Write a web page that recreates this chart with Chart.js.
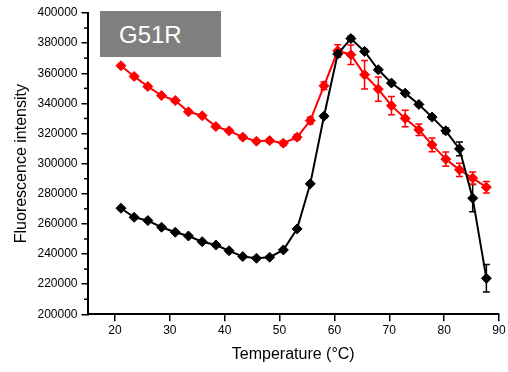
<!DOCTYPE html>
<html>
<head>
<meta charset="utf-8">
<title>G51R thermal scan</title>
<script src="https://cdn.jsdelivr.net/npm/chart.js@4/dist/chart.umd.min.js"></script>
<style>
  html, body { margin: 0; padding: 0; background: #fff; }
  #wrap { position: relative; width: 508px; height: 372px; }
  #tag {
    position: absolute; left: 100px; top: 11px; width: 121px; height: 46px;
    box-sizing: border-box; padding: 1px 0 0 19px;
    background: #7f7f7f; color: #fff;
    font: 24px "Liberation Sans", Arial, sans-serif; line-height: 46px;
  }
</style>
</head>
<body>
<div id="wrap">
  <canvas id="chart" width="508" height="372"></canvas>
  <div id="tag">G51R</div>
</div>
<script>
// temperatures of each reading (°C)
const temps = [21.1, 23.5, 26.0, 28.5, 31.0, 33.4, 35.9, 38.4, 40.8, 43.3, 45.8, 48.2, 50.7, 53.2,
               55.6, 58.1, 60.6, 63.0, 65.5, 68.0, 70.4, 72.9, 75.4, 77.8, 80.3, 82.8, 85.2, 87.7];

// black trace
const blackVals = [270400, 264400, 262200, 257800, 254500, 252000, 248200, 246000, 242200, 238300,
                   237200, 237900, 242700, 256700, 286600, 331500, 372800, 383000, 374500, 362300,
                   353500, 346800, 339300, 330900, 321800, 309800, 277100, 223900];
const blackErr = [800, 800, 800, 800, 800, 800, 800, 800, 800, 800, 800, 800, 800, 800,
                  1000, 1200, 2000, 1500, 1200, 1000, 1000, 1000, 1000, 1200, 1800, 4500, 9100, 9100];

// red trace
const redVals = [365000, 357900, 351200, 345200, 341900, 334400, 331800, 324600, 321800, 317600,
                 314900, 315300, 313600, 317600, 328600, 351700, 374900, 372300, 359000, 349500,
                 338500, 330000, 322500, 312500, 303000, 295900, 290400, 284400];
const redErr = [1000, 1000, 800, 1000, 1200, 1000, 900, 1100, 1000, 1200, 1000, 1200, 1500, 1800,
                2200, 2500, 4000, 6500, 9500, 8000, 6000, 5500, 3800, 4600, 4800, 4400, 4000, 3800];

const yTicks = { min: 200000, max: 400000, step: 20000 };
const xTicks = { min: 15, max: 90, step: 10 };

const FONT = '"Liberation Sans", Arial, sans-serif';

const toPoints = (vals) => vals.map((v, i) => ({ x: temps[i], y: v }));

// vertical error bars with caps, drawn under the markers
const errorBars = {
  id: 'errorBars',
  beforeDatasetsDraw(chart) {
    const ctx = chart.ctx;
    const yScale = chart.scales.y;
    chart.data.datasets.forEach((ds, di) => {
      const meta = chart.getDatasetMeta(di);
      ctx.save();
      ctx.strokeStyle = ds.borderColor;
      ctx.lineWidth = 1.5;
      meta.data.forEach((pt, i) => {
        const v = ds.data[i].y, e = ds.errors[i];
        const top = yScale.getPixelForValue(v + e);
        const bot = yScale.getPixelForValue(v - e);
        ctx.beginPath();
        ctx.moveTo(pt.x, top); ctx.lineTo(pt.x, bot);
        ctx.moveTo(pt.x - 3.5, top); ctx.lineTo(pt.x + 3.5, top);
        ctx.moveTo(pt.x - 3.5, bot); ctx.lineTo(pt.x + 3.5, bot);
        ctx.stroke();
      });
      ctx.restore();
    });
  }
};

// short minor ticks halfway between the y labels
const minorTicks = {
  id: 'minorTicks',
  afterDraw(chart) {
    const ctx = chart.ctx;
    const y = chart.scales.y;
    const left = chart.chartArea.left;
    ctx.save();
    ctx.strokeStyle = '#000';
    ctx.lineWidth = 1.5;
    for (let v = yTicks.min + yTicks.step / 2; v < yTicks.max; v += yTicks.step) {
      const py = y.getPixelForValue(v);
      ctx.beginPath();
      ctx.moveTo(left - 3.5, py);
      ctx.lineTo(left, py);
      ctx.stroke();
    }
    ctx.restore();
  }
};

const axisBase = {
  type: 'linear',
  border: { display: true, color: '#000', width: 2 },
  grid: { drawOnChartArea: false, drawTicks: true, color: '#000', lineWidth: 1.5 },
};

new Chart(document.getElementById('chart'), {
  type: 'line',
  data: {
    datasets: [
      {
        data: toPoints(blackVals), errors: blackErr,
        borderColor: '#000', backgroundColor: '#000', borderWidth: 2,
        pointStyle: 'rectRot', pointRadius: 5, pointBorderWidth: 1, tension: 0
      },
      {
        data: toPoints(redVals), errors: redErr,
        borderColor: '#ff0000', backgroundColor: '#ff0000', borderWidth: 2,
        pointStyle: 'rectRot', pointRadius: 5, pointBorderWidth: 1, tension: 0
      }
    ]
  },
  options: {
    responsive: false,
    animation: false,
    devicePixelRatio: 1,
    layout: { padding: { top: 13, right: 9, left: 0, bottom: 0 } },
    plugins: { legend: { display: false }, tooltip: { enabled: false } },
    scales: {
      x: {
        ...axisBase,
        min: xTicks.min, max: xTicks.max,
        grid: { ...axisBase.grid, tickLength: 7 },
        ticks: { stepSize: xTicks.step, includeBounds: false, padding: 2, color: '#000',
                 font: { family: FONT, size: 12 } },
        title: { display: true, text: 'Temperature (°C)', color: '#000',
                 font: { family: FONT, size: 16 }, padding: { top: 0, bottom: 8 } },
        afterFit(scale) { scale.height = 57.7; }
      },
      y: {
        ...axisBase,
        min: yTicks.min, max: yTicks.max,
        grid: { ...axisBase.grid, tickLength: 6 },
        ticks: { stepSize: yTicks.step, padding: 4, color: '#000',
                 font: { family: FONT, size: 12 },
                 callback: (v) => String(v) },
        title: { display: true, text: 'Fluorescence intensity', color: '#000',
                 font: { family: FONT, size: 16 }, padding: { top: 12, bottom: 0 } },
        afterFit(scale) { scale.width = 87.5; }
      }
    }
  },
  plugins: [errorBars, minorTicks]
});
</script>
</body>
</html>
